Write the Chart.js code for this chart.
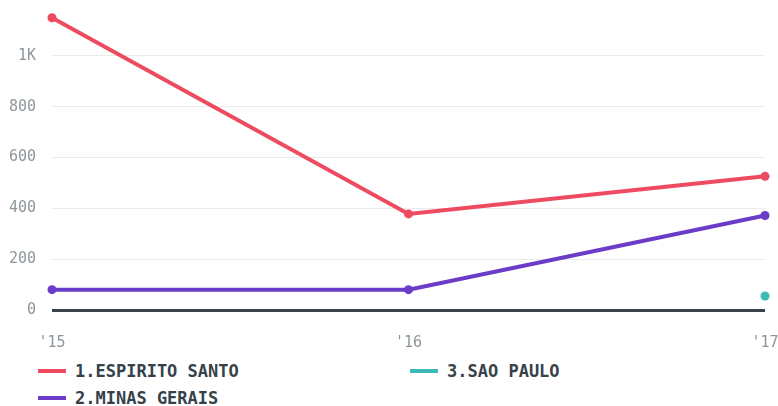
<!DOCTYPE html>
<html>
<head>
<meta charset="utf-8">
<script src="https://cdn.jsdelivr.net/npm/chart.js@4"></script>
<style>
  body { margin: 0; background: #fff; font-family: "DejaVu Sans Mono", monospace; }
  #wrap { position: relative; width: 778px; height: 352px; }
  #legend {
    position: absolute; left: 38px; top: 357px;
    display: grid; grid-template-rows: 27px 27px; grid-auto-flow: column;
    grid-template-columns: 372px 300px;
  }
  .item { display: flex; align-items: center; font-weight: bold; font-size: 17px; color: #36424a; }
  .swatch { width: 28px; height: 4px; margin-right: 9px; }
</style>
</head>
<body>
<div id="wrap"><canvas id="chart"></canvas></div>
<div id="legend"></div>
<script>
const years = ["'15", "'16", "'17"];
const seriesNames = ["1.ESPIRITO SANTO", "2.MINAS GERAIS", "3.SAO PAULO"];
const espiritoSanto = [1150, 378, 526];
const minasGerais = [80, 80, 372];
const saoPaulo = [null, null, 55];
const colors = ["#ee4b61", "#6a3cc8", "#3fb9b6"];

const grey = "#8c969c";

// drop the auto label padding so the plot runs to the edges like the original
function noPad(s) {
  s.paddingTop = 0;
  s.paddingBottom = 0;
  s.paddingLeft = 0;
  s.paddingRight = 0;
}

const ctx = document.getElementById("chart");
const chart = new Chart(ctx, {
  type: "line",
  data: {
    labels: years,
    datasets: [espiritoSanto, minasGerais, saoPaulo].map((d, i) => ({
      label: seriesNames[i],
      data: d,
      borderColor: colors[i],
      backgroundColor: colors[i],
      borderWidth: 4,
      pointRadius: 4.5,
      pointBorderWidth: 0,
      pointHoverRadius: 5,
      tension: 0,
    })),
  },
  options: {
    responsive: true,
    maintainAspectRatio: false,
    animation: false,
    layout: { padding: { top: 2, right: 13, left: 0, bottom: 0 } },
    plugins: { legend: { display: false }, tooltip: { enabled: false } },
    scales: {
      x: {
        offset: false,
        grid: { display: false },
        border: { display: false },
        ticks: { color: grey, padding: 16, font: { family: "DejaVu Sans Mono", size: 15 }, maxRotation: 0 },
        afterFit: (s) => { s.height = 42; noPad(s); },
      },
      y: {
        min: 0,
        max: 1200,
        border: { display: false },
        afterBuildTicks: (s) => { s.ticks = s.ticks.filter((t) => t.value <= 1000); },
        afterFit: (s) => { s.width = 52; noPad(s); },
        grid: {
          drawTicks: false,
          color: (c) => (c.tick && c.tick.value === 0 ? "#37434b" : "#ebebeb"),
          lineWidth: (c) => (c.tick && c.tick.value === 0 ? 3 : 1),
        },
        ticks: {
          stepSize: 200,
          padding: 16,
          color: grey,
          font: { family: "DejaVu Sans Mono", size: 15 },
          callback: (v) => (v >= 1000 ? v / 1000 + "K" : v),
        },
      },
    },
  },
});

const legend = document.getElementById("legend");
seriesNames.forEach((name, i) => {
  const el = document.createElement("div");
  el.className = "item";
  el.innerHTML = '<span class="swatch" style="background:' + colors[i] + '"></span>' + name;
  legend.appendChild(el);
});
</script>
</body>
</html>
